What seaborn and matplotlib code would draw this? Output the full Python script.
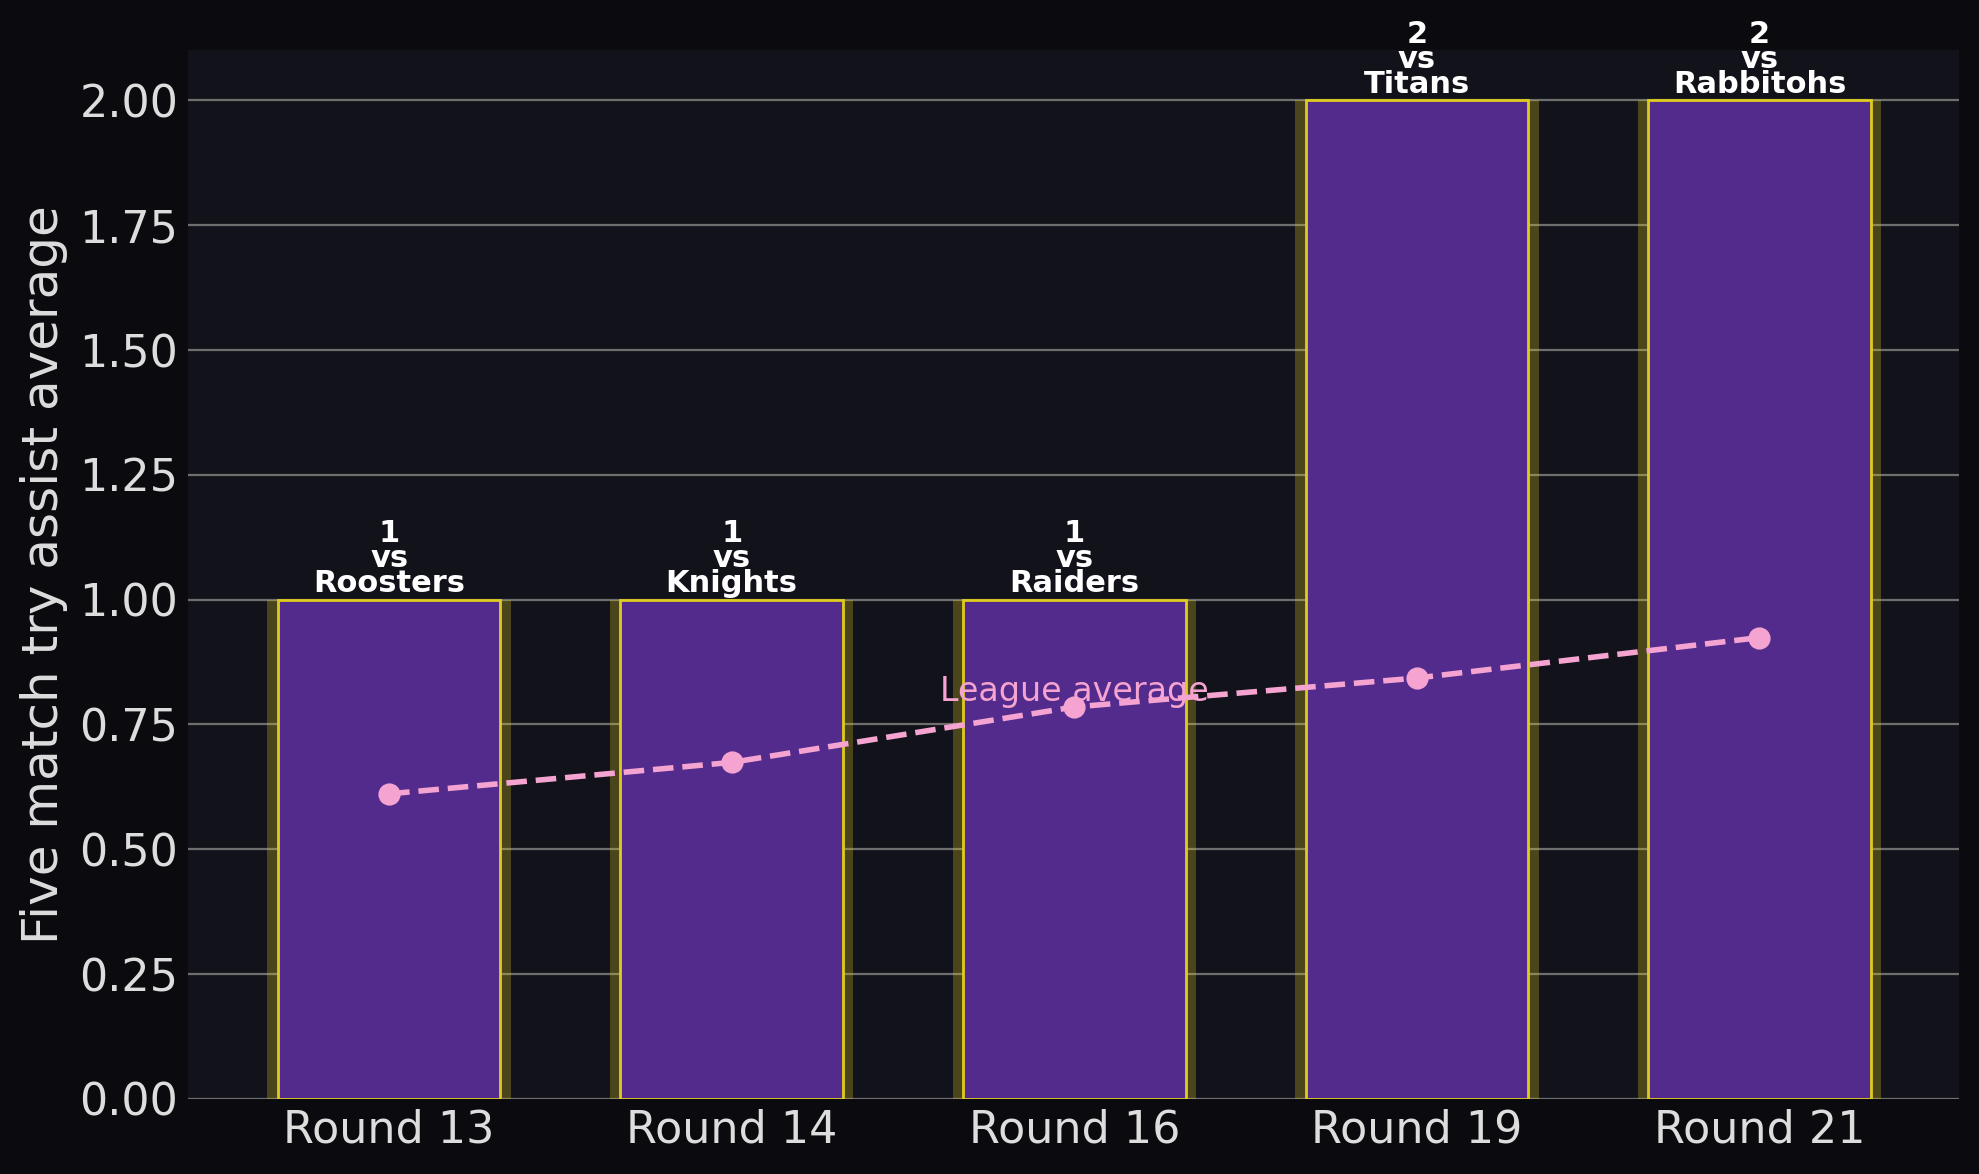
import pandas as pd
import seaborn as sns
import matplotlib.pyplot as plt

# data
rounds = ["Round 13", "Round 14", "Round 16", "Round 19", "Round 21"]
assists = [1, 1, 1, 2, 2]
opponents = ["Roosters", "Knights", "Raiders", "Titans", "Rabbitohs"]
league_avg = [0.611, 0.674, 0.785, 0.843, 0.924]

df = pd.DataFrame({"Round": rounds, "Assists": assists, "League": league_avg})

sns.set_style("dark")
plt.rcParams["font.family"] = ["DejaVu Sans"]

fig_bg = "#0b0b0f"
ax_bg = "#12121a"
purple = "#522b8c"
yellow = "#e0cc1e"
pink = "#f5a3d0"

fig, ax = plt.subplots(figsize=(9.895, 5.87), dpi=200)
fig.patch.set_facecolor(fig_bg)
ax.set_facecolor(ax_bg)

# glow behind the bars
sns.barplot(data=df, x="Round", y="Assists", color=yellow, alpha=0.28,
            width=0.71, saturation=1, linewidth=0, ax=ax, zorder=2)
# main bars
sns.barplot(data=df, x="Round", y="Assists", color=purple, saturation=1,
            width=0.65, edgecolor=yellow, linewidth=1.0, ax=ax, zorder=3)

# league average line
sns.pointplot(data=df, x="Round", y="League", color=pink, linestyles="--",
              markers="o", markersize=6.5, linewidth=2.0, ax=ax, zorder=5)

ax.text(2, 0.815, "League average", color=pink, fontsize=12,
        ha="center", va="center", zorder=6)

# labels above the bars
for i, (v, opp) in enumerate(zip(assists, opponents)):
    ax.text(i, v + 0.003, f"{v}\nvs\n{opp}", color="white", fontsize=11,
            fontweight="bold", ha="center", va="bottom", linespacing=0.82,
            zorder=6)

ax.set_ylim(0, 2.1)
ax.set_xlim(-0.587, 4.583)
ax.set_yticks([0, 0.25, 0.5, 0.75, 1.0, 1.25, 1.5, 1.75, 2.0])
ax.set_yticklabels([f"{t:.2f}" for t in ax.get_yticks()])
ax.grid(axis="y", color="#6e6e6e", linewidth=0.8, zorder=0)
ax.set_axisbelow(True)
for s in ax.spines.values():
    s.set_visible(False)
ax.tick_params(colors="#dddddd", labelsize=16, length=0)
ax.set_xlabel("")
ax.set_ylabel("Five match try assist average", color="#dddddd", fontsize=18)

fig.subplots_adjust(left=0.095, right=0.990, top=0.957, bottom=0.064)
fig.savefig("out.png", dpi=200, facecolor=fig_bg)
